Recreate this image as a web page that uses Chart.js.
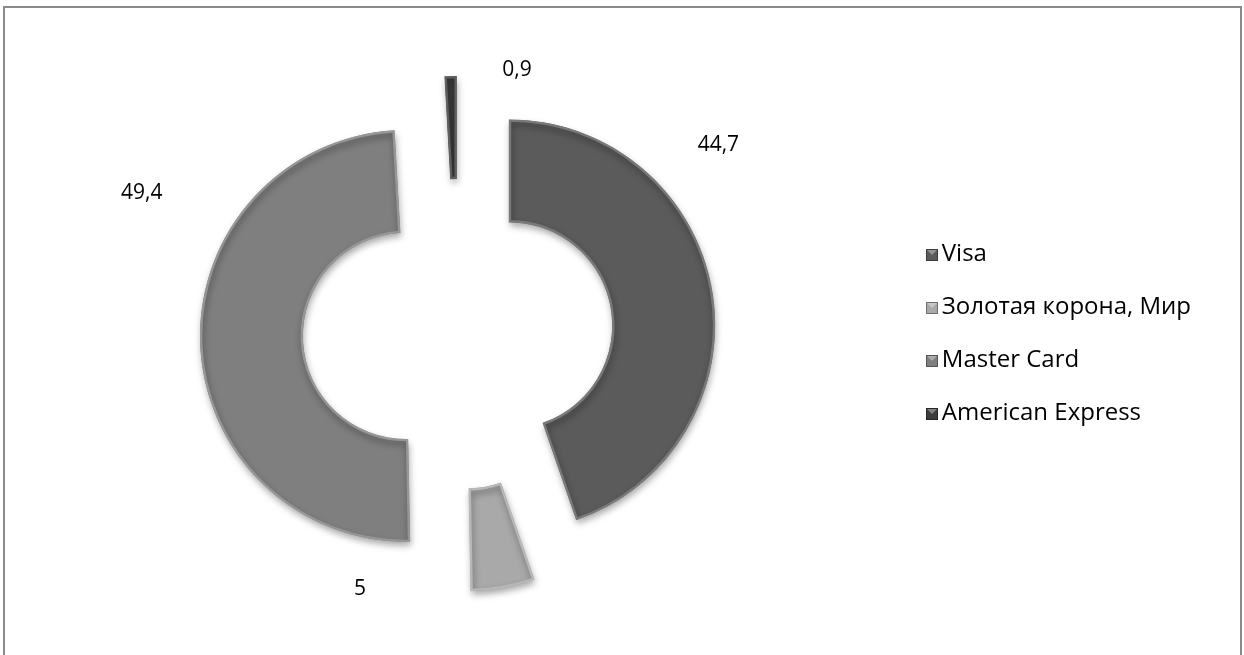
<!DOCTYPE html>
<html>
<head>
<meta charset="utf-8">
<script src="https://cdn.jsdelivr.net/npm/chart.js@4.4.0/dist/chart.umd.min.js"></script>
<style>
  html, body { margin: 0; padding: 0; background: #fff; }
  #wrap { position: relative; width: 1244px; height: 655px; overflow: hidden; }
  #frame { position: absolute; left: 3px; top: 6px; width: 1239px; height: 670px; border: 2px solid #8a8a8a; box-sizing: border-box; }
  #c { position: absolute; left: 0; top: 0; }
</style>
</head>
<body>
<div id="wrap"><div id="frame"></div><canvas id="c" width="1244" height="655"></canvas></div>
<script>
const categories = ['Visa', 'Золотая корона, Мир', 'Master Card', 'American Express'];
const shares = [44.7, 5, 49.4, 0.9];
const valueLabels = ['44,7', '5', '49,4', '0,9'];
const sliceColors = ['#5b5b5b', '#a9a9a9', '#7f7f7f', '#3c3c3c'];

// where the value labels sit: angle from 12 o'clock (deg) and distance from the ring centre
const labelPolar = [[54, 322], [201, 273], [294, 346], [12.6, 271]];

const LABEL_FONT = { family: '"Open Sans", sans-serif', size: 21 };
const LEGEND_FONT = { family: '"Open Sans", sans-serif', size: 24 };

// every slice is pulled out of the ring by this many pixels
const EXPLODE = 52;

function lighten(hex, amt) {
  const n = parseInt(hex.slice(1), 16);
  const c = [n >> 16, (n >> 8) & 255, n & 255].map(v => Math.min(255, Math.round(v + (255 - v) * amt)));
  return `rgb(${c[0]},${c[1]},${c[2]})`;
}

const ringDecor = {
  id: 'ringDecor',
  beforeDatasetsDraw(chart) {
    // chart.js's own `offset` also shrinks thin slices, so move each arc ourselves
    chart.getDatasetMeta(0).data.forEach(el => {
      if (el._exploded) return;
      const draw = el.draw.bind(el);
      el.draw = ctx => {
        const mid = (el.startAngle + el.endAngle) / 2;
        ctx.save();
        ctx.translate(Math.cos(mid) * EXPLODE, Math.sin(mid) * EXPLODE);
        draw(ctx);
        ctx.restore();
      };
      el._exploded = true;
    });
    const ctx = chart.ctx;
    ctx.save();
    ctx.shadowColor = 'rgba(0,0,0,0.35)';
    ctx.shadowBlur = 7;
    ctx.shadowOffsetX = 1;
    ctx.shadowOffsetY = 4;
  },
  afterDatasetsDraw(chart) {
    const ctx = chart.ctx;
    ctx.restore();
    const arc = chart.getDatasetMeta(0).data[0];
    if (!arc) return;
    ctx.save();
    ctx.font = `${LABEL_FONT.size}px ${LABEL_FONT.family}`;
    ctx.fillStyle = '#000';
    ctx.textAlign = 'center';
    ctx.textBaseline = 'middle';
    valueLabels.forEach((txt, i) => {
      const a = labelPolar[i][0] * Math.PI / 180;
      const r = labelPolar[i][1];
      ctx.fillText(txt, arc.x + Math.sin(a) * r, arc.y - Math.cos(a) * r);
    });
    ctx.restore();
  },
  afterDraw(chart) {
    // bevelled legend keys, drawn just left of each legend text
    const lg = chart.legend;
    if (!lg || !lg.legendHitBoxes) return;
    const ctx = chart.ctx;
    const s = 12;
    lg.legendHitBoxes.forEach((hb, i) => {
      const textX = hb.left + LEGEND_FONT.size / 2;
      const x = Math.round(textX - s - 4), y = Math.round(hb.top + hb.height / 2 - s / 2);
      ctx.save();
      ctx.fillStyle = sliceColors[i];
      ctx.fillRect(x, y, s, s);
      ctx.fillStyle = lighten(sliceColors[i], 0.35);
      ctx.beginPath();
      ctx.moveTo(x + 1, y + 1); ctx.lineTo(x + s - 1, y + 1); ctx.lineTo(x + s / 2, y + s / 2);
      ctx.closePath(); ctx.fill();
      ctx.strokeStyle = 'rgba(0,0,0,0.35)';
      ctx.lineWidth = 1;
      ctx.strokeRect(x + 0.5, y + 0.5, s - 1, s - 1);
      ctx.restore();
    });
  }
};

new Chart(document.getElementById('c'), {
  type: 'doughnut',
  data: {
    labels: categories,
    datasets: [{
      data: shares,
      backgroundColor: sliceColors,
      borderColor: sliceColors.map(c => lighten(c, 0.18)),
      borderWidth: 2,
      borderAlign: 'inner',
      hoverOffset: 0,
      clip: false
    }]
  },
  options: {
    responsive: false,
    animation: false,
    radius: 206,
    cutout: '50%',
    layout: { padding: { left: 15, top: 13, bottom: 0, right: 43 } },
    events: [],
    plugins: {
      tooltip: { enabled: false },
      legend: {
        position: 'right',
        labels: {
          font: LEGEND_FONT,
          color: '#000',
          boxWidth: 0,
          boxHeight: 12,
          padding: 29,
          generateLabels() {
            return categories.map((name, i) => ({
              text: name,
              fillStyle: 'rgba(0,0,0,0)',
              strokeStyle: 'rgba(0,0,0,0)',
              lineWidth: 0,
              index: i,
              hidden: false
            }));
          }
        }
      }
    }
  },
  plugins: [ringDecor]
});
</script>
</body>
</html>
